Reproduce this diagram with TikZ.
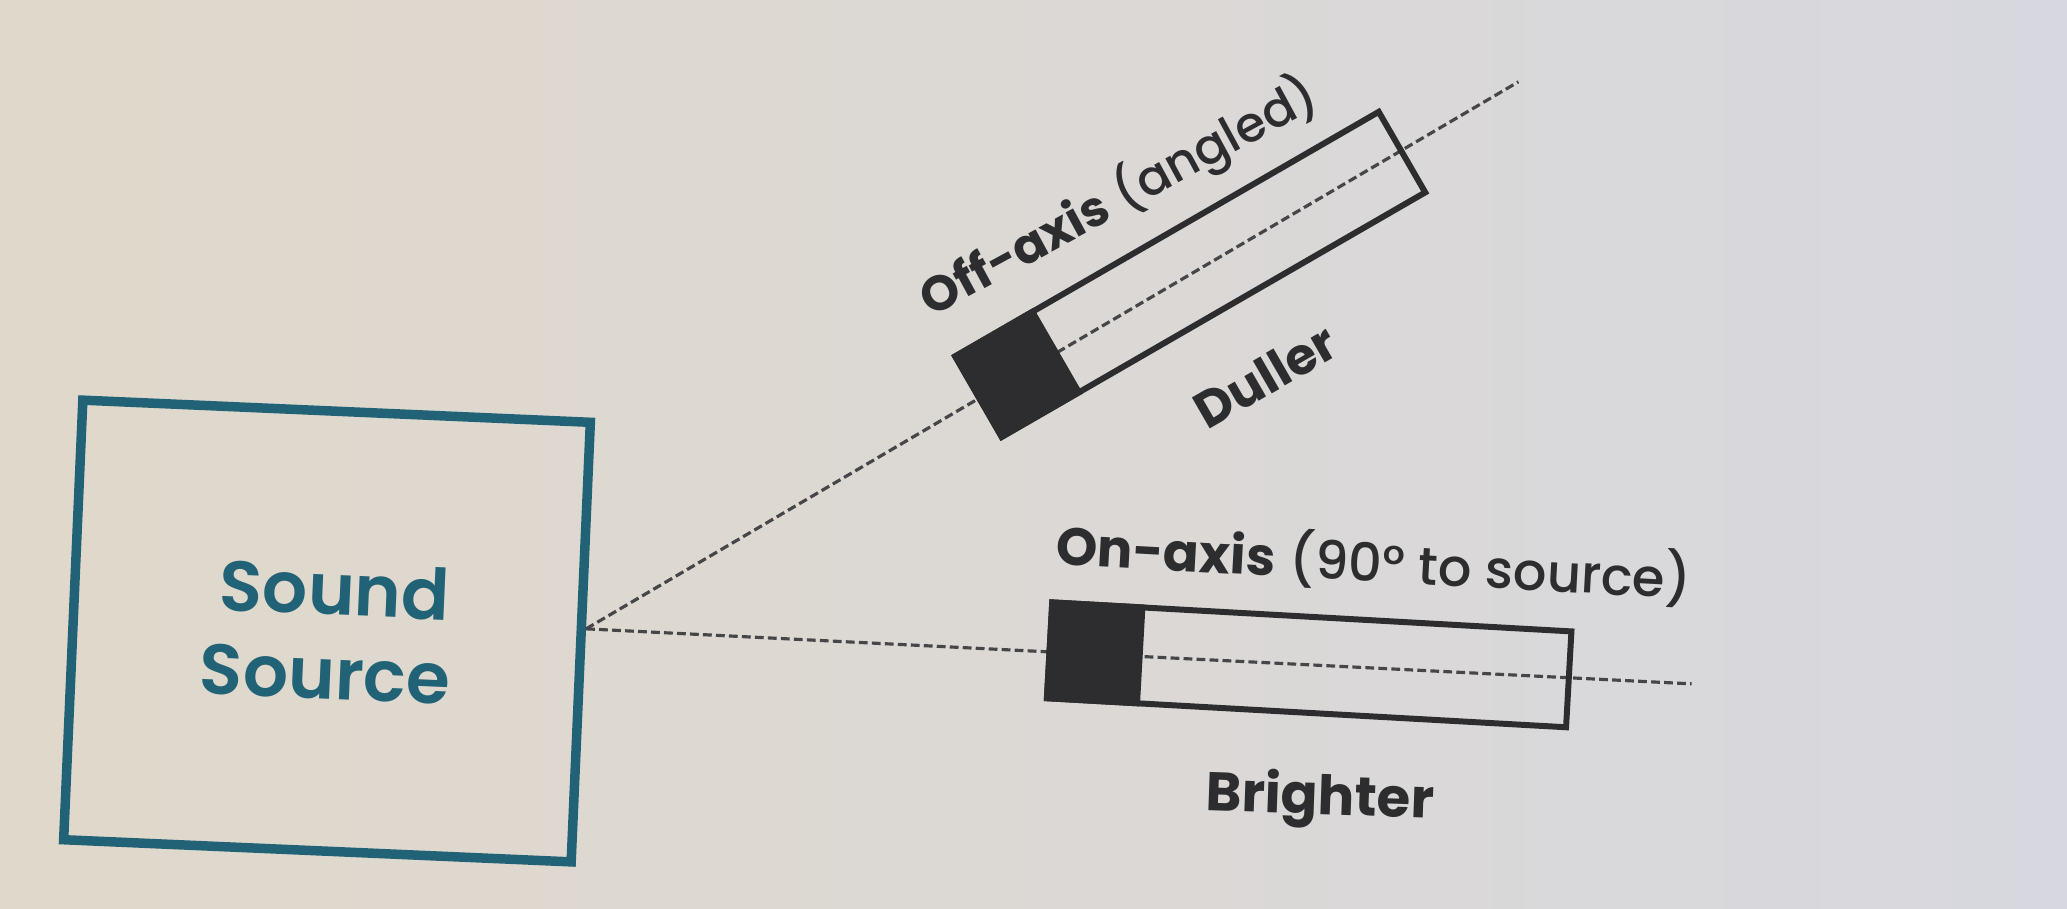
\documentclass[tikz,border=0pt]{standalone}
\usepackage{fontspec}
\setmainfont{Poppins Medium}[BoldFont={Poppins Bold}]
\newfontfamily\srcfont{Poppins SemiBold}
\usetikzlibrary{calc}
\definecolor{srcteal}{RGB}{33,98,118}
\definecolor{ink}{RGB}{45,45,47}
\definecolor{dashink}{RGB}{70,70,72}
\definecolor{bgl}{RGB}{224,216,202}
\definecolor{bgr}{RGB}{215,216,223}
\begin{document}
\begin{tikzpicture}[
  srcbox/.style={draw=srcteal, line width=2.7pt, minimum width=5.08cm, minimum height=4.4cm,
    inner sep=0pt, font=\srcfont\fontsize{20.2}{24}\selectfont, text=srcteal, align=center},
  micbox/.style={draw=ink, line width=1.7pt, inner sep=0pt},
  axisline/.style={dashink, line width=0.9pt, dash pattern=on 2.5pt off 1.2pt},
  lbl/.style={text=ink, inner sep=0pt},
  boldlbl/.style={text=ink, font=\bfseries, inner sep=0pt},
]
\useasboundingbox (0,0) rectangle (20.67,-9.08);
\shade[left color=bgl, right color=bgr] (0,0) rectangle (20.67,-9.08);

% sound source
\node[srcbox, rotate=-2.5] (src) at (3.27,-6.31) {\hspace*{0.12cm}Sound\\Source};
\coordinate (s) at ($(src.east)!0.06!(src.north east)$);
\coordinate (onend) at ($(s)+(-2.85:11.07)$);
\coordinate (offend) at ($(s)+(30.4:10.81)$);
\draw[axisline] (s) -- (onend);
\draw[axisline] (s) -- (offend);

% on-axis microphone
\node[micbox, minimum width=5.2cm, minimum height=0.96cm, rotate=-3.2] (on) at ($(s)!0.654!(onend)$) {};
\fill[ink] (on.north west) -- ($(on.north west)!0.183!(on.north east)$)
  -- ($(on.south west)!0.183!(on.south east)$) -- (on.south west) -- cycle;

% off-axis microphone
\node[micbox, minimum width=4.89cm, minimum height=0.93cm, rotate=30] (off) at ($(s)!0.648!(offend)$) {};
\fill[ink] (off.north west) -- ($(off.north west)!0.192!(off.north east)$)
  -- ($(off.south west)!0.192!(off.south east)$) -- (off.south west) -- cycle;

% labels
\node[lbl, font=\fontsize{15}{18}\selectfont, rotate=-3.1] (onlbl) at (13.74,-5.62) {\textbf{On-axis} (90° to source)};
\node[boldlbl, font=\bfseries\fontsize{15.5}{18}\selectfont, rotate=-2] (bright) at (13.20,-8.00) {Brighter};
\node[lbl, font=\fontsize{14}{17}\selectfont, rotate=28.5] (offlbl) at (11.19,-1.97) {\textbf{Off-axis} (angled)};
\node[boldlbl, font=\bfseries\fontsize{14.5}{17}\selectfont, rotate=30] (dull) at (12.65,-3.76) {Duller};
\end{tikzpicture}
\end{document}
